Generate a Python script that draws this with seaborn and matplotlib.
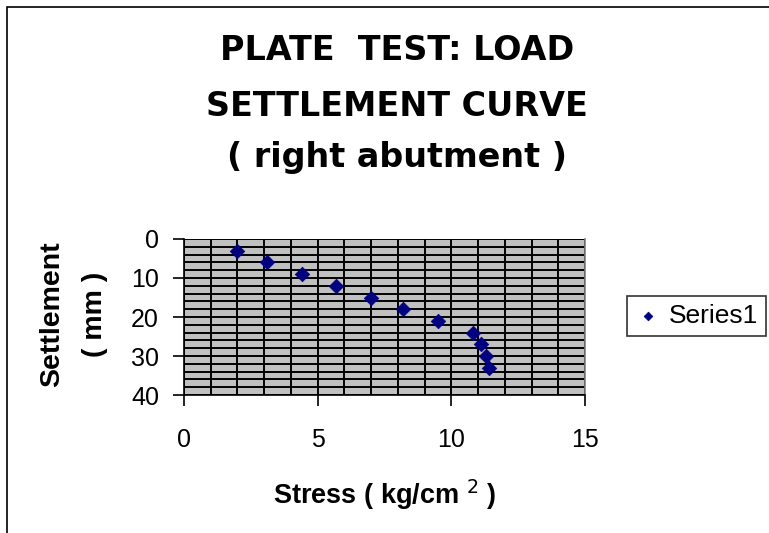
import numpy as np
import pandas as pd
import matplotlib
matplotlib.use('Agg')
import matplotlib.pyplot as plt
import seaborn as sns
from matplotlib.ticker import MultipleLocator

stress = [2.0, 3.1, 4.4, 5.7, 7.0, 8.2, 9.5, 10.8, 11.1, 11.3, 11.4]
settlement = [3, 6, 9, 12, 15, 18, 21, 24, 27, 30, 33]

df = pd.DataFrame({'stress': stress, 'settlement': settlement})

sns.set_style('white')
plt.rcParams['font.family'] = ['Liberation Sans', 'DejaVu Sans']
plt.rcParams['text.color'] = 'black'
plt.rcParams['xtick.color'] = 'black'
plt.rcParams['ytick.color'] = 'black'

fig = plt.figure(figsize=(7.69, 5.33), dpi=100)
ax = fig.add_axes([0.2393, 0.2589, 0.5215, 0.2927])
ax.set_facecolor('#c0c0c0')

sns.scatterplot(data=df, x='stress', y='settlement', marker='D', s=55,
                color='#000080', edgecolor='#000080', linewidth=0.5,
                label='Series1', ax=ax, zorder=3)

ax.set_xlim(0, 15)
ax.set_ylim(40, 0)
ax.xaxis.set_major_locator(MultipleLocator(5))
ax.xaxis.set_minor_locator(MultipleLocator(1))
ax.yaxis.set_major_locator(MultipleLocator(10))
ax.yaxis.set_minor_locator(MultipleLocator(2))
ax.grid(True, which='both', color='black', linewidth=1.4)
ax.set_axisbelow(True)
ax.tick_params(axis='both', which='major', direction='out', length=8,
               width=1.2, color='black', labelsize=18, bottom=True, left=True)
ax.tick_params(axis='x', which='major', pad=16)
ax.tick_params(axis='y', which='major', pad=10)
ax.tick_params(which='minor', length=0)
for side in ['left', 'bottom']:
    ax.spines[side].set_color('black')
    ax.spines[side].set_linewidth(1.2)
ax.spines['top'].set_visible(False)
ax.spines['right'].set_color('#808080')
ax.spines['right'].set_linewidth(1.2)

ax.set_xlabel('')
ax.set_ylabel('')
fig.text(0.5, 1 - 495 / 533, 'Stress ( kg/cm $^{2}$ )', ha='center', va='center',
         fontsize=19.5, fontweight='bold')
fig.text(52 / 769, 1 - 314 / 533, 'Settlement', rotation=90, ha='center',
         va='center', fontsize=20.5, fontweight='bold')
fig.text(95 / 769, 1 - 314 / 533, '( mm )', rotation=90, ha='center',
         va='center', fontsize=20.5, fontweight='bold')

title_lines = ['PLATE  TEST: LOAD', 'SETTLEMENT CURVE', '( right abutment )']
for line, yy in zip(title_lines, [50, 106, 158]):
    fig.text(397 / 769, 1 - yy / 533, line, ha='center', va='center',
             fontsize=24, fontweight='bold', family='DejaVu Sans')

leg = ax.legend(loc='center left', bbox_to_anchor=(627 / 769, 1 - 316 / 533),
                bbox_transform=fig.transFigure, frameon=True, fancybox=False,
                fontsize=19, handletextpad=0.3, borderpad=0.3, borderaxespad=0,
                handlelength=1.0, markerscale=0.6)
leg.get_frame().set_edgecolor('black')
leg.get_frame().set_linewidth(1.2)

fig.add_artist(plt.Rectangle((7 / 769, -0.1), 1.2, 1 - 7 / 533 + 0.1,
                             transform=fig.transFigure, fill=False,
                             edgecolor='black', linewidth=1.2))

fig.savefig('out.png', dpi=100)
